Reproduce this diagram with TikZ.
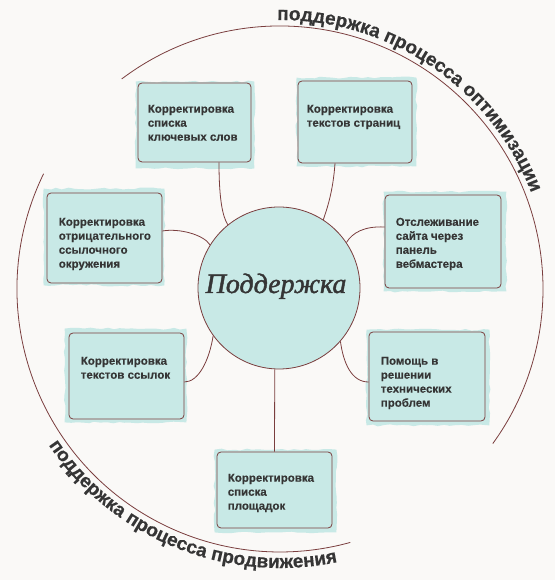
\documentclass[tikz,border=0pt]{standalone}
\usepackage{fontspec}
\setmainfont{Liberation Sans}[BoldFont={Liberation Sans Bold}]
\newfontfamily\boldsans{Liberation Sans Bold}[FakeBold=0.4]
\newfontfamily\hubfont{Liberation Serif Italic}[FakeBold=1.6]
\usetikzlibrary{decorations.text,decorations.pathmorphing}
\definecolor{bgc}{HTML}{FAF9F7}
\definecolor{tealfill}{HTML}{C8E9E6}
\definecolor{edgec}{HTML}{7A3E3E}
\definecolor{txt}{HTML}{353535}
\newcommand\arcfont{\boldsans\fontsize{19}{19}\selectfont}
\pgfdeclarelayer{bgl}
\pgfdeclarelayer{smudgel}
\pgfsetlayers{bgl,smudgel,main}
\tikzset{
  box/.style={draw=edgec, fill=tealfill, line width=0.8pt, rounded corners=4pt, inner sep=0pt},
  lbl/.style={anchor=north west, inner sep=0pt, align=left, text=txt,
    font=\boldsans\fontsize{11.5}{14}\selectfont},
  smudge/.style={fill=tealfill, decorate, decoration={random steps, segment length=6pt, amplitude=1pt}},
  conn/.style={draw=edgec, line width=0.8pt},
  arcline/.style={draw=edgec, line width=0.8pt},
  hub/.style={circle, draw=edgec, fill=tealfill, line width=0.8pt, minimum size=162pt, inner sep=0pt}
}
\begin{document}
\begin{tikzpicture}[x=1pt,y=1pt]
\begin{pgfonlayer}{bgl}
\fill[bgc] (0,0) rectangle (555,580);
\end{pgfonlayer}
\useasboundingbox (0,0) rectangle (555,580);

% outer arcs
\coordinate (O) at (280,291);
\coordinate (a1) at ([shift={(127:263pt)}]O);
\coordinate (a2) at ([shift={(154:263pt)}]O);
\draw[arcline] (a1) arc[start angle=127, end angle=-36, radius=263pt];
\draw[arcline] (a2) arc[start angle=154, end angle=285.5, radius=263pt];

% arc texts
\coordinate (ts) at ([shift={(90.6:269pt)}]O);
\coordinate (bs) at ([shift={(214:279pt)}]O);
\path[decorate, decoration={text along path, text color=txt,
  text={|\arcfont|поддержка процесса оптимизации}}]
  (ts) arc[start angle=90.6, end angle=10, radius=269pt];
\path[decorate, decoration={text along path, text color=txt,
  text={|\arcfont|поддержка процесса продвижения}}]
  (bs) arc[start angle=214, end angle=295, radius=279pt];

% hub
\node[hub] (hub) at (279,292) {};
\node[anchor=base, inner sep=0pt, text=txt, font=\hubfont\fontsize{28}{28}\selectfont]
  (ht) at ([shift={(-3,-5)}]hub.center) {Поддержка};

% boxes
\node[box, minimum width=113pt, minimum height=79pt] (b1) at (194.5,457.5) {};
\node[box, minimum width=114pt, minimum height=82pt] (b2) at (355,458) {};
\node[box, minimum width=115pt, minimum height=90pt] (b3) at (104.5,342) {};
\node[box, minimum width=116pt, minimum height=93pt] (b4) at (443,338.5) {};
\node[box, minimum width=115pt, minimum height=86pt] (b5) at (126.5,204) {};
\node[box, minimum width=116pt, minimum height=89pt] (b6) at (427,203.5) {};
\node[box, minimum width=115pt, minimum height=76pt] (b7) at (274.5,90) {};

\begin{pgfonlayer}{smudgel}
\foreach \b/\dxa/\dya/\dxb/\dyb in {b1/-2/1/3/-6, b2/-1/3/4/-3, b3/-3/4/2/-2, b4/-1/3/5/-3,
  b5/-4/4/2/-3, b6/-2/2/4/-4, b7/-2/2/4/-4}{
  \fill[smudge] ([shift={(\dxa,\dya)}]\b.north west) rectangle ([shift={(\dxb,\dyb)}]\b.south east);
}
\end{pgfonlayer}

% labels
\node[lbl] (t1) at ([shift={(10,-22)}]b1.north west) {Корректировка\\списка\\ключевых слов};
\node[lbl] (t2) at ([shift={(9,-24)}]b2.north west) {Корректировка\\текстов страниц};
\node[lbl] (t3) at ([shift={(12,-25)}]b3.north west) {Корректировка\\отрицательного\\ссылочного\\окружения};
\node[lbl] (t4) at ([shift={(11,-23)}]b4.north west) {Отслеживание\\сайта через\\панель\\вебмастера};
\node[lbl] (t5) at ([shift={(12,-24)}]b5.north west) {Корректировка\\текстов ссылок};
\node[lbl] (t6) at ([shift={(12,-25)}]b6.north west) {Помощь в\\решении\\технических\\проблем};
\node[lbl] (t7) at ([shift={(11,-22)}]b7.north west) {Корректировка\\списка\\площадок};

% connectors
\draw[conn] ([xshift=24.5pt]b1.south) .. controls +(0,-38) and +(-5,8) .. (hub.129);
\draw[conn] ([xshift=-20pt]b2.south) .. controls +(-2,-28) and +(4,12) .. (hub.57);
\draw[conn] ([yshift=7pt]b3.east) .. controls +(17,3) and +(-6,10) .. (hub.148);
\draw[conn] ([yshift=14.5pt]b4.west) .. controls +(-20,1) and +(6,10) .. (hub.34);
\draw[conn] ([yshift=-6pt]b5.east) .. controls +(14,0) and +(-4,-25) .. (hub.216);
\draw[conn] ([yshift=-5.5pt]b6.west) .. controls +(-17,0) and +(3,-22) .. (hub.-41);
\draw[conn] (hub.-93) -- (b7.north);
\end{tikzpicture}
\end{document}
